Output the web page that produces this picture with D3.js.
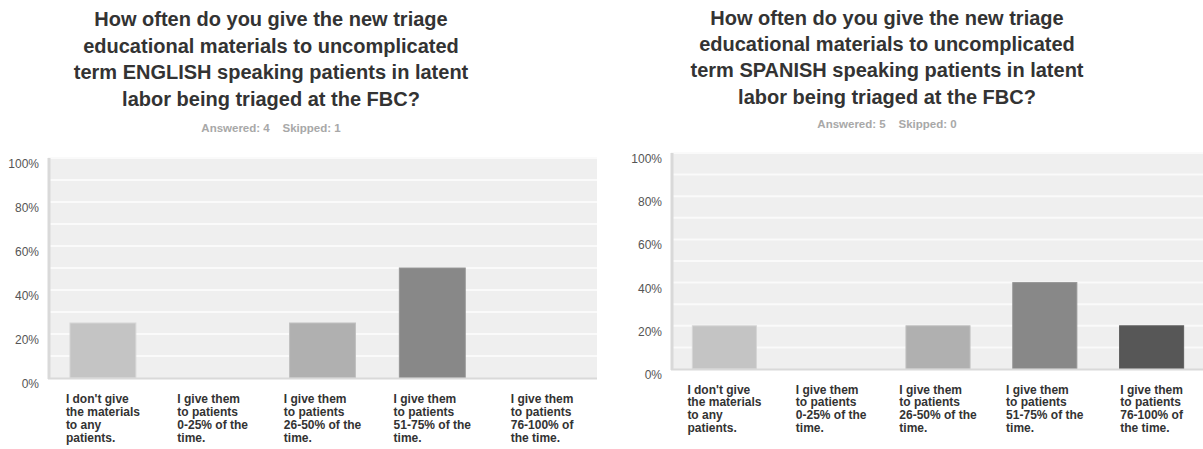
<!DOCTYPE html>
<html>
<head>
<meta charset="utf-8">
<script src="https://cdn.jsdelivr.net/npm/d3@7"></script>
<style>
  html, body { margin: 0; padding: 0; background: #fff; }
  svg { display: block; }
</style>
</head>
<body>
<svg id="chart" width="1203" height="449"></svg>
<script>
// Answer choices (each wrapped onto the lines it is drawn with)
const categories = [
  "I don't give the materials to any patients.",
  "I give them to patients 0-25% of the time.",
  "I give them to patients 26-50% of the time.",
  "I give them to patients 51-75% of the time.",
  "I give them to patients 76-100% of the time."
];
const categoryLines = [
  ["I don't give", "the materials", "to any", "patients."],
  ["I give them", "to patients", "0-25% of the", "time."],
  ["I give them", "to patients", "26-50% of the", "time."],
  ["I give them", "to patients", "51-75% of the", "time."],
  ["I give them", "to patients", "76-100% of", "the time."]
];

// Share of respondents (%) per answer choice
const englishValues = [25, 0, 25, 50, 0];
const spanishValues = [20, 0, 20, 40, 20];

const englishTitle = [
  "How often do you give the new triage",
  "educational materials to uncomplicated",
  "term ENGLISH speaking patients in latent",
  "labor being triaged at the FBC?"
];
const spanishTitle = [
  "How often do you give the new triage",
  "educational materials to uncomplicated",
  "term SPANISH speaking patients in latent",
  "labor being triaged at the FBC?"
];
const englishAnswered = "Answered: 4    Skipped: 1";
const spanishAnswered = "Answered: 5    Skipped: 0";

const yTickValues = [0, 20, 40, 60, 80, 100];
const gridValues = [10, 20, 30, 40, 50, 60, 70, 80, 90, 100];
const barColors = ["#c4c4c4", "#dedede", "#b0b0b0", "#888888", "#575757"];

const svg = d3.select("#chart");
const FONT = "'Liberation Sans', Arial, Helvetica, sans-serif";

function drawPanel(cfg) {
  const g = svg.append("g");

  // Title block
  const title = g.append("text")
    .attr("text-anchor", "middle")
    .attr("font-family", FONT)
    .attr("font-weight", "bold")
    .attr("font-size", cfg.titleSize)
    .attr("fill", "#333333");
  cfg.title.forEach((line, i) => {
    title.append("tspan")
      .attr("x", cfg.titleX)
      .attr("y", cfg.titleY + i * cfg.titleLead)
      .text(line);
  });

  g.append("text")
    .attr("x", cfg.titleX)
    .attr("y", cfg.answeredY)
    .attr("text-anchor", "middle")
    .attr("font-family", FONT)
    .attr("font-weight", "bold")
    .attr("font-size", 11.5)
    .attr("fill", "#a8a8a8")
    .attr("xml:space", "preserve")
    .style("white-space", "pre")
    .text(cfg.answered);

  const x = d3.scaleBand()
    .domain(categories)
    .range([cfg.left, cfg.right])
    .paddingInner(0.4)
    .paddingOuter(0.2);
  const y = d3.scaleLinear().domain([0, 100]).range([cfg.bottom, cfg.top]);

  // Plot background
  g.append("rect")
    .attr("x", cfg.left)
    .attr("y", y(100))
    .attr("width", cfg.right - cfg.left)
    .attr("height", y(0) - y(100))
    .attr("fill", "#efefef");

  // Horizontal gridlines
  g.selectAll(".grid")
    .data(gridValues)
    .join("line")
    .attr("x1", cfg.left)
    .attr("x2", cfg.right)
    .attr("y1", d => y(d))
    .attr("y2", d => y(d))
    .attr("stroke", "#fafafa")
    .attr("stroke-width", 2);

  // Bars
  g.selectAll(".bar")
    .data(cfg.values.map((v, i) => ({ cat: categories[i], v, i })))
    .join("rect")
    .attr("x", d => x(d.cat))
    .attr("width", x.bandwidth())
    .attr("y", d => y(d.v))
    .attr("height", d => y(0) - y(d.v))
    .attr("fill", d => barColors[d.i])
    .attr("stroke", d => d3.color(barColors[d.i]).brighter(0.25))
    .attr("stroke-width", d => d.v > 0 ? 1 : 0);

  // Axis lines
  g.append("line")
    .attr("x1", cfg.left + 1).attr("x2", cfg.left + 1)
    .attr("y1", y(100)).attr("y2", y(0) + 1)
    .attr("stroke", "#d9d9d9").attr("stroke-width", 3);
  g.append("line")
    .attr("x1", cfg.left).attr("x2", cfg.right)
    .attr("y1", y(0) + 0.5).attr("y2", y(0) + 0.5)
    .attr("stroke", "#d9d9d9").attr("stroke-width", 2);

  // Y axis tick labels
  const yAxis = d3.axisLeft(y)
    .tickValues(yTickValues)
    .tickFormat(d => d + "%")
    .tickSize(0)
    .tickPadding(9);
  const ya = g.append("g")
    .attr("transform", `translate(${cfg.left},0)`)
    .call(yAxis);
  ya.select(".domain").remove();
  ya.selectAll("text")
    .attr("font-family", FONT)
    .attr("font-size", 12)
    .attr("fill", "#555555")
    .attr("dy", null)
    .attr("dominant-baseline", "central")
    .attr("y", 5.5);

  // Category labels: a block of left-aligned lines centred under each band
  categories.forEach((cat, i) => {
    const cx = x(cat) + x.bandwidth() / 2;
    const t = g.append("text")
      .attr("font-family", FONT)
      .attr("font-weight", "bold")
      .attr("font-size", 12)
      .attr("fill", "#333333");
    const spans = categoryLines[i].map((line, j) =>
      t.append("tspan")
        .attr("y", y(0) + cfg.labelOffset + j * 12.9)
        .text(line));
    const w = d3.max(spans, s => s.node().getComputedTextLength());
    spans.forEach(s => s.attr("x", cx - w / 2));
  });
}

drawPanel({
  title: englishTitle, answered: englishAnswered, values: englishValues,
  titleX: 271, titleY: 26, titleLead: 26.5, titleSize: 20, answeredY: 132,
  left: 48, right: 597, top: 158, bottom: 378, labelOffset: 25
});

drawPanel({
  title: spanishTitle, answered: spanishAnswered, values: spanishValues,
  titleX: 887, titleY: 25, titleLead: 26.2, titleSize: 20, answeredY: 128,
  left: 671, right: 1205, top: 153, bottom: 369, labelOffset: 24.5
});
</script>
</body>
</html>
